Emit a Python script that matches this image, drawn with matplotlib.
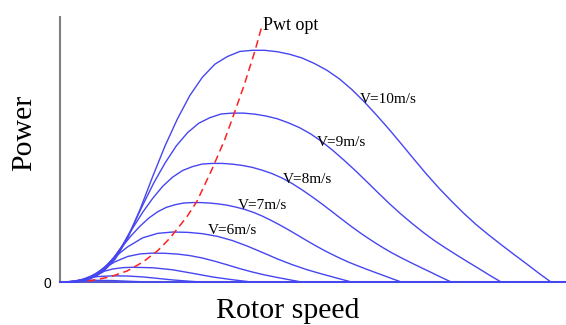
import matplotlib.pyplot as plt

# Rotor speed (arb. units) and power (% of the V=10 maximum)
x_10 = [5, 7.5, 10, 12.5, 15, 17.5, 20, 22.5, 25, 27.5, 30, 32.5, 35, 37.5, 40, 42.5, 45, 47.5, 50, 52.5,
        55, 57.5, 60, 62.5, 65, 67.5, 70, 72.5, 75, 77.5, 80, 82.5, 85, 87.5, 90, 92.5, 95, 97.5, 100]
p_10 = [0.05, 1.4, 4.3, 9.9, 18.9, 31.4, 45.4, 58.7, 70.4, 80.5, 88.3, 93.9, 97.2, 99.4, 99.9, 99.9, 99.3,
        98.2, 96.6, 94.2, 91.3, 87.6, 83.0, 77.7, 71.9, 65.8, 59.4, 52.9, 46.5, 40.5, 34.9, 29.6, 24.7, 20.3,
        16.1, 12.0, 8.0, 3.9, 0]

x_9 = [4.5, 6.75, 9, 11.25, 13.5, 15.75, 18, 20.25, 22.5, 24.75, 27, 29.25, 31.5, 33.75, 36, 38.25, 40.5,
       42.75, 45, 47.25, 49.5, 51.75, 54, 56.25, 58.5, 60.75, 63, 65.25, 67.5, 69.75, 72, 74.25, 76.5, 78.75,
       81, 83.25, 85.5, 87.75, 90]
p_9 = [0.04, 1.02, 3.13, 7.22, 13.78, 22.89, 33.10, 42.79, 51.32, 58.68, 64.37, 68.45, 70.86, 72.46, 72.83,
       72.83, 72.39, 71.59, 70.42, 68.67, 66.56, 63.86, 60.51, 56.64, 52.42, 47.97, 43.30, 38.56, 33.90, 29.52,
       25.44, 21.58, 18.01, 14.80, 11.74, 8.75, 5.83, 2.84, 0]

x_8 = [4, 6, 8, 10, 12, 14, 16, 18, 20, 22, 24, 26, 28, 30, 32, 34, 36, 38, 40, 42, 44, 46, 48, 50, 52, 54,
       56, 58, 60, 62, 64, 66, 68, 70, 72, 74, 76, 78, 80]
p_8 = [0.03, 0.72, 2.20, 5.07, 9.68, 16.08, 23.24, 30.05, 36.04, 41.22, 45.21, 48.08, 49.77, 50.89, 51.15,
       51.15, 50.84, 50.28, 49.46, 48.23, 46.75, 44.85, 42.50, 39.78, 36.81, 33.69, 30.41, 27.08, 23.81, 20.74,
       17.87, 15.16, 12.65, 10.39, 8.24, 6.14, 4.10, 2.00, 0]

x_7 = [3.5, 5.25, 7, 8.75, 10.5, 12.25, 14, 15.75, 17.5, 19.25, 21, 22.75, 24.5, 26.25, 28, 29.75, 31.5,
       33.25, 35, 36.75, 38.5, 40.25, 42, 43.75, 45.5, 47.25, 49, 50.75, 52.5, 54.25, 56, 57.75, 59.5, 61.25,
       63, 64.75, 66.5, 68.25, 70]
p_7 = [0.02, 0.48, 1.47, 3.40, 6.48, 10.77, 15.57, 20.13, 24.15, 27.61, 30.29, 32.21, 33.34, 34.09, 34.27,
       34.27, 34.06, 33.68, 33.13, 32.31, 31.32, 30.05, 28.47, 26.65, 24.66, 22.57, 20.37, 18.14, 15.95, 13.89,
       11.97, 10.15, 8.47, 6.96, 5.52, 4.12, 2.74, 1.34, 0]

x_6 = [3, 4.5, 6, 7.5, 9, 10.5, 12, 13.5, 15, 18, 21, 24, 27, 30, 33, 36, 39, 42, 45, 48, 51, 54, 57, 60]
p_6 = [0.01, 0.30, 0.93, 2.14, 4.08, 6.78, 9.81, 12.68, 15.21, 19.07, 21.00, 21.58, 21.45, 20.87, 19.72,
       17.93, 15.53, 12.83, 10.04, 7.54, 5.34, 3.48, 1.73, 0]

x_5 = [2.5, 5, 6.25, 7.5, 8.75, 10, 12.5, 15, 17.5, 20, 22.5, 25, 27.5, 30, 32.5, 35, 37.5, 40, 42.5, 45,
       47.5, 50]
p_5 = [0.01, 0.54, 1.24, 2.36, 3.93, 5.68, 8.80, 11.04, 12.15, 12.49, 12.41, 12.08, 11.41, 10.38, 8.99, 7.43,
       5.81, 4.36, 3.09, 2.01, 1.00, 0]

x_4 = [2, 4, 6, 8, 10, 12, 14, 16, 20, 24, 28, 32, 36, 40]
p_4 = [0.0, 0.28, 1.21, 2.91, 4.51, 5.65, 6.22, 6.39, 6.18, 5.31, 3.80, 2.23, 1.03, 0]

x_3 = [1.5, 3, 4.5, 6, 7.5, 9, 12, 15, 18, 21, 24, 27, 30]
p_3 = [0.0, 0.12, 0.51, 1.23, 1.90, 2.38, 2.70, 2.61, 2.24, 1.60, 0.94, 0.43, 0]

x_2 = [2, 4, 6, 8, 12, 16, 20]
p_2 = [0.03, 0.36, 0.71, 0.80, 0.66, 0.28, 0]

x_1 = [2, 4, 6, 8, 10]
p_1 = [0.045, 0.10, 0.083, 0.035, 0]

# optimal power locus (Pwt opt)
x_opt = [7.0, 11.4, 14.9, 18.1, 21.1, 23.5, 26.9, 28.9, 31.9, 34.5, 36.1, 38.4, 40.6, 42.0]
p_opt = [0.4, 2.2, 4.8, 8.7, 13.7, 19.0, 28.2, 34.8, 48.5, 61.5, 71.0, 85.0, 100.0, 110.8]

curves = [(x_10, p_10), (x_9, p_9), (x_8, p_8), (x_7, p_7), (x_6, p_6),
          (x_5, p_5), (x_4, p_4), (x_3, p_3), (x_2, p_2), (x_1, p_1)]
speed_labels = ["V=10m/s", "V=9m/s", "V=8m/s", "V=7m/s", "V=6m/s"]
label_pos = [(61.6, 78.8), (53.0, 60.2), (46.2, 44.2), (37.1, 32.9), (31.1, 22.1)]

X_MIN, X_MAX = 1.41, 103.0
BLUE = "#4646f0"
serif = ["Liberation Serif", "DejaVu Serif"]

fig = plt.figure(figsize=(5.66, 3.25), dpi=100)
ax = fig.add_axes([0.106, 0.132, 0.894, 0.816])

for x, p in curves:
    ax.plot([X_MIN] + x + [X_MAX], [0.0] + p + [0.0], color=BLUE, lw=1.0,
            clip_on=False, zorder=3, solid_joinstyle="round")

ax.plot(x_opt, p_opt, color="#ff2020", lw=1.1, linestyle=(0, (5, 3)), zorder=4)

for txt, (x, y) in zip(speed_labels, label_pos):
    ax.text(x, y, txt, fontsize=11, family=serif, va="center", ha="left", zorder=5)
ax.text(42.2, 110.8, "Pwt opt", fontsize=13, family=serif, va="center", ha="left", zorder=5)

ax.set_xlim(X_MIN, X_MAX)
ax.set_ylim(0, 114.3)
for side in ("top", "right"):
    ax.spines[side].set_visible(False)
for side in ("left", "bottom"):
    ax.spines[side].set_color("#808080")
    ax.spines[side].set_linewidth(1.5)
ax.set_xticks([])
ax.set_yticks([0])
ax.set_yticklabels(["0"], family=["Liberation Sans", "DejaVu Sans"], fontsize=10)
ax.tick_params(axis="y", length=0, pad=6)

fig.text(0.509, 0.043, "Rotor speed", family=serif, fontsize=21.5, ha="center", va="center")
fig.text(0.043, 0.59, "Power", family=serif, fontsize=21.5, rotation=90, ha="center", va="center")

fig.savefig("out.png", dpi=100)
